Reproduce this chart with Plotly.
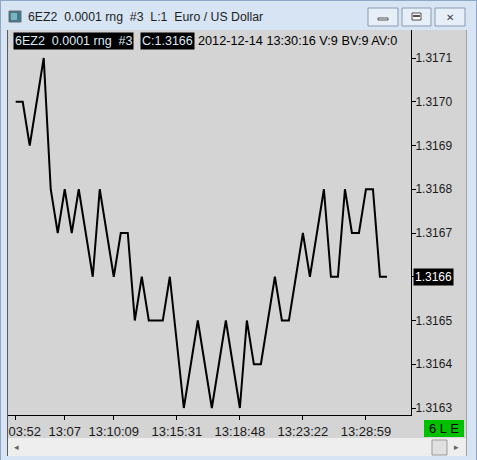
import plotly.graph_objects as go

# ---------------- data ----------------
tick_index = [0, 1, 2, 3, 4, 5, 6, 7, 8, 9, 10, 11, 12, 13, 14, 15, 16, 17, 18, 19, 20, 21, 22,
              24, 25, 26, 27, 28, 29, 30, 31, 32, 33, 34, 35, 36, 37, 38, 39, 40, 41, 42, 43,
              44, 45, 46, 47, 48, 49, 50, 51, 52, 53]
prices = [1.3170, 1.3170, 1.3169, 1.3170, 1.3171, 1.3168, 1.3167, 1.3168, 1.3167, 1.3168,
          1.3167, 1.3166, 1.3168, 1.3167, 1.3166, 1.3167, 1.3167, 1.3165, 1.3166, 1.3165,
          1.3165, 1.3165, 1.3166,
          1.3163, 1.3164, 1.3165, 1.3164, 1.3163, 1.3164, 1.3165, 1.3164, 1.3163, 1.3165,
          1.3164, 1.3164, 1.3165, 1.3166, 1.3165, 1.3165, 1.3166, 1.3167, 1.3166, 1.3167,
          1.3168, 1.3166, 1.3166, 1.3168, 1.3167, 1.3167, 1.3168, 1.3168, 1.3166, 1.3166]
time_tick_pos = [0, 7, 14, 23, 32, 41, 50]
time_tick_labels = ["13:03:52", "13:07", "13:10:09", "13:15:31", "13:18:48", "13:23:22", "13:28:59"]
price_ticks = [1.3163, 1.3164, 1.3165, 1.3166, 1.3167, 1.3168, 1.3169, 1.3170, 1.3171]
last_price = 1.3166

window_title = "6EZ2\u00a0\u00a00.0001 rng\u00a0\u00a0#3\u00a0\u00a0L:1\u00a0\u00a0Euro / US Dollar"
header_box1 = "6EZ2\u00a0\u00a00.0001 rng\u00a0\u00a0#3"
header_box2 = "C:1.3166"
header_info = "2012-12-14 13:30:16 V:9 BV:9 AV:0"
status_text = "6 L E"

# ---------------- geometry helpers (pixel -> paper) ----------------
W_FIG, H_FIG = 477, 460
L, R, T, B = 8, 411, 30, 415
PW, PH = R - L, B - T


def xp(px):
    return (px - L) / PW


def yp(py):
    return (B - py) / PH


def rect(x0, y0, x1, y1, fill, line=None, lw=1, layer="below"):
    return dict(type="rect", xref="paper", yref="paper",
                x0=xp(x0), x1=xp(x1), y0=yp(y1), y1=yp(y0),
                fillcolor=fill, line=dict(color=line or fill, width=lw if line else 0),
                layer=layer)


def hline(x0, x1, y, color, lw=1, layer="above"):
    return dict(type="line", xref="paper", yref="paper", x0=xp(x0), x1=xp(x1),
                y0=yp(y), y1=yp(y), line=dict(color=color, width=lw), layer=layer)


def vline(x, y0, y1, color, lw=1, layer="above"):
    return dict(type="line", xref="paper", yref="paper", x0=xp(x), x1=xp(x),
                y0=yp(y0), y1=yp(y1), line=dict(color=color, width=lw), layer=layer)


FONT = "Liberation Sans, Arial, sans-serif"
GRAY = "#D4D4D4"
FRAME = "#D7E4F3"

fig = go.Figure()
fig.add_trace(go.Scatter(x=tick_index, y=prices, mode="lines",
                         line=dict(color="black", width=2), hoverinfo="skip",
                         showlegend=False))

shapes = []
shapes.append(rect(8, 30, 467, 438, GRAY, layer="below"))
# scrollbar row
shapes.append(rect(8, 438, 467, 456, "#EEEEEE", layer="above"))
shapes.append(rect(432, 440, 447, 455, "#E0E0E0", line="#9A9A9A", layer="above"))
# window frame (drawn above so it clips labels)
shapes.append(rect(0, 0, 477, 30, FRAME, layer="above"))
shapes.append(rect(0, 0, 7, 460, FRAME, layer="above"))
shapes.append(rect(467, 0, 477, 460, FRAME, layer="above"))
shapes.append(rect(0, 456, 477, 460, FRAME, layer="above"))
shapes.append(vline(7.5, 30, 456, "#5A5A5A", 1))
shapes.append(vline(466.5, 30, 456, "#A0A0A0", 1))
shapes.append(vline(0.5, 0, 460, "#8FA7C4", 1))
shapes.append(vline(476.5, 0, 460, "#8FA7C4", 1))
shapes.append(hline(0, 477, 0.5, "#8FA7C4", 1))
# title-bar icon
shapes.append(rect(9, 11, 21, 22, "#3E7A8C", line="#6C6C6C", layer="above"))
shapes.append(rect(11, 13, 17, 20, "#7BB3C0", layer="above"))
# window buttons
for bx0, bx1 in [(368, 398), (402, 431), (435, 465)]:
    shapes.append(dict(type="rect", xref="paper", yref="paper", x0=xp(bx0), x1=xp(bx1),
                       y0=yp(26), y1=yp(8), fillcolor="#E6EEF8",
                       line=dict(color="#8A9BB2", width=1), layer="above"))
shapes.append(rect(378, 18, 388, 20, "#F8F8F8", line="#505050", layer="above"))
shapes.append(rect(412, 13, 421, 20, "#F8F8F8", line="#505050", layer="above"))
shapes.append(rect(413, 15, 420, 17, "#505050", layer="above"))
# status box
shapes.append(rect(424, 420, 464, 437, "#00C000", layer="above"))

annotations = []
annotations.append(dict(xref="paper", yref="paper", x=xp(26), y=yp(17), xanchor="left",
                        yanchor="middle", text=window_title, showarrow=False,
                        font=dict(family=FONT, size=12.3, color="#1E1E1E")))
annotations.append(dict(xref="paper", yref="paper", x=xp(450), y=yp(17), xanchor="center",
                        yanchor="middle", text="\u2715", showarrow=False,
                        font=dict(family="DejaVu Sans", size=10, color="#404040")))
annotations.append(dict(xref="paper", yref="paper", x=xp(13), y=yp(41), xanchor="left",
                        yanchor="middle", text=header_box1, showarrow=False, bgcolor="black",
                        borderpad=1, font=dict(family=FONT, size=12.5, color="#DDE8F5")))
annotations.append(dict(xref="paper", yref="paper", x=xp(140), y=yp(41), xanchor="left",
                        yanchor="middle", text=header_box2, showarrow=False, bgcolor="black",
                        borderpad=1, font=dict(family=FONT, size=12.5, color="#DDE8F5")))
annotations.append(dict(xref="paper", yref="paper", x=xp(196), y=yp(41), xanchor="left",
                        yanchor="middle", text=header_info, showarrow=False,
                        font=dict(family=FONT, size=12.7, color="black")))
annotations.append(dict(xref="paper", yref="y", x=xp(413), y=last_price, xanchor="left",
                        yanchor="middle", text=f"{last_price:.4f}", showarrow=False,
                        bgcolor="black", borderpad=1,
                        font=dict(family=FONT, size=12, color="white")))
annotations.append(dict(xref="paper", yref="paper", x=xp(444), y=yp(428.5), xanchor="center",
                        yanchor="middle", text=status_text, showarrow=False,
                        font=dict(family=FONT, size=13, color="black")))
annotations.append(dict(xref="paper", yref="paper", x=xp(16), y=yp(447), xanchor="center",
                        yanchor="middle", text="\u25c2", showarrow=False,
                        font=dict(family="DejaVu Sans", size=9, color="#606060")))
annotations.append(dict(xref="paper", yref="paper", x=xp(456), y=yp(447), xanchor="center",
                        yanchor="middle", text="\u25b8", showarrow=False,
                        font=dict(family="DejaVu Sans", size=9, color="#606060")))

y_lo = 1.3163 - 7 / 43.75 * 0.0001
y_hi = 1.3171 + 28 / 43.75 * 0.0001
x_lo = -(15.7 - L) / 7.005
x_hi = (R - 15.7) / 7.005

# the highlighted last price replaces its plain tick label
price_labels = ["" if abs(v - last_price) < 1e-9 else f"{v:.4f}" for v in price_ticks]

fig.update_layout(
    width=W_FIG, height=H_FIG,
    margin=dict(l=L, r=W_FIG - R, t=T, b=H_FIG - B, pad=0, autoexpand=False),
    paper_bgcolor=FRAME, plot_bgcolor=GRAY,
    shapes=shapes, annotations=annotations, showlegend=False,
    xaxis=dict(range=[x_lo, x_hi], tickvals=time_tick_pos, ticktext=time_tick_labels,
               ticks="outside", ticklen=4, tickcolor="black", showline=True,
               linecolor="black", linewidth=1, showgrid=False, zeroline=False,
               ticklabeloverflow="allow",
               tickfont=dict(family=FONT, size=13, color="#1A1A1A"), fixedrange=True),
    yaxis=dict(range=[y_lo, y_hi], side="right", tickvals=price_ticks,
               ticktext=price_labels, ticklabelstandoff=-3,
               ticks="outside", ticklen=4, tickcolor="black", showline=True,
               linecolor="black", linewidth=1, showgrid=False, zeroline=False,
               tickfont=dict(family=FONT, size=12, color="#1A1A1A"), fixedrange=True),
)

fig.write_html("out.html", config=dict(displayModeBar=False),
               post_script="document.body.style.margin='0';")
